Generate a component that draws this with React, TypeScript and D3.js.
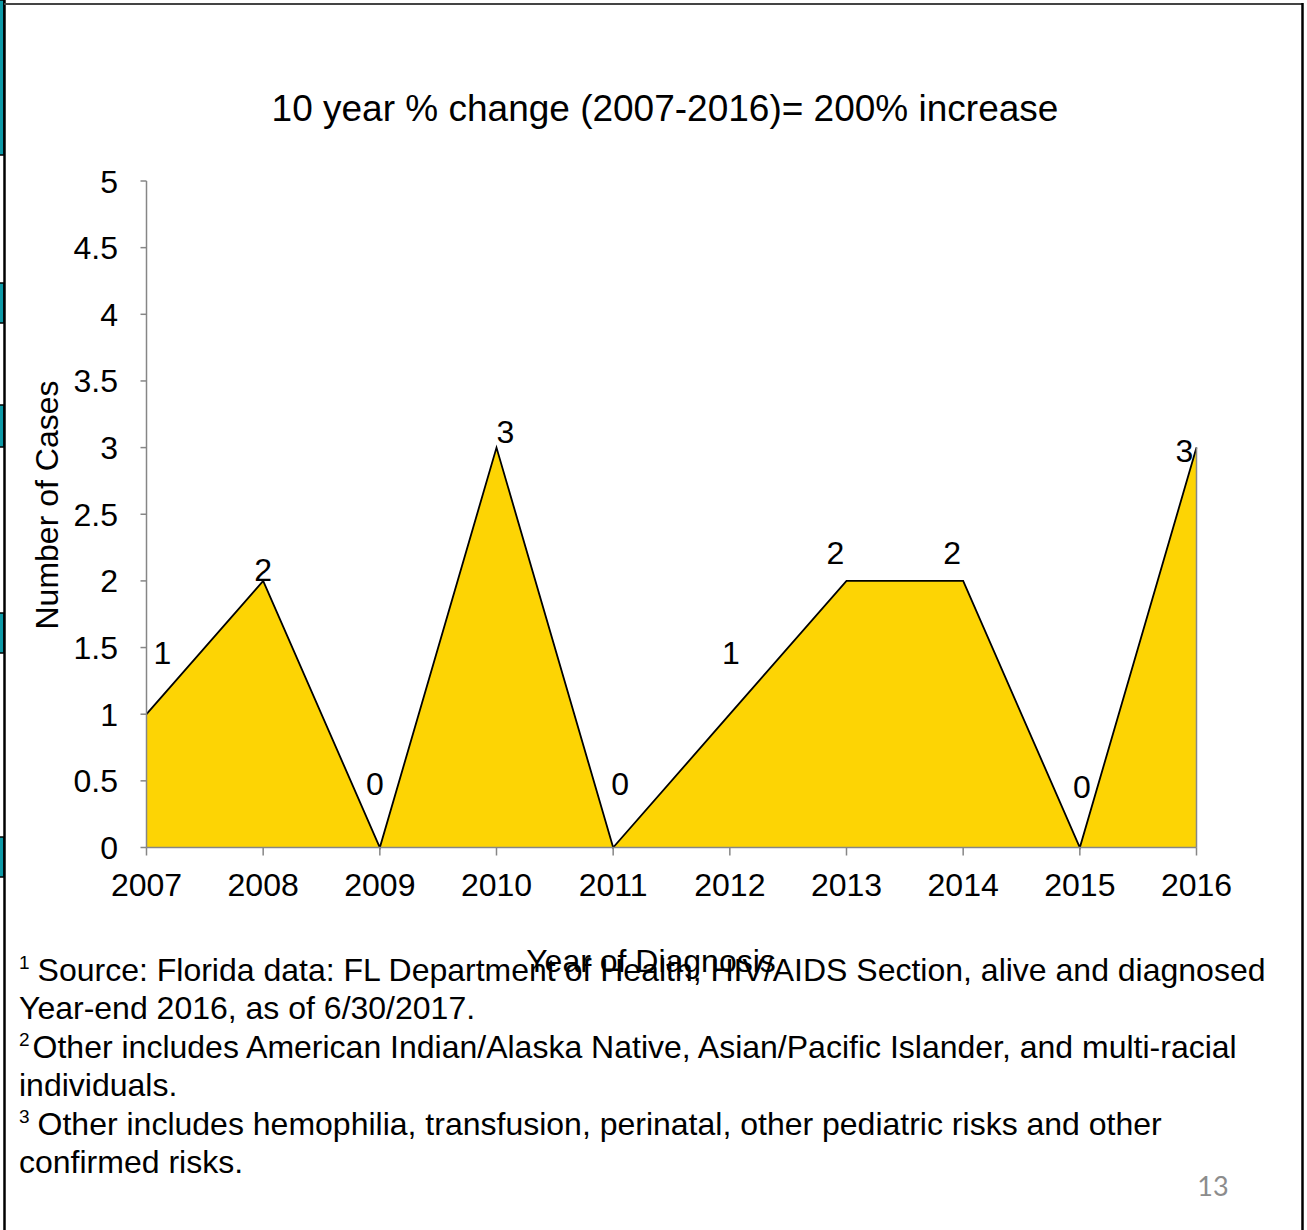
import React from "react";
import * as d3 from "d3";

const years = [2007, 2008, 2009, 2010, 2011, 2012, 2013, 2014, 2015, 2016];
const cases = [1, 2, 0, 3, 0, 1, 2, 2, 0, 3];
const yTicks = [0, 0.5, 1, 1.5, 2, 2.5, 3, 3.5, 4, 4.5, 5];
// label offsets (dx, dy) from the point to the label centre, mimicking the source placement
const labelDx = [16, 0, -5, 9, 7, 1, -11, -11, 2, -12];
const labelDy = [-62, -11, -64, -16, -64, -62, -28, -28, -61, 3];
const tealBands = [[0, 155], [283, 323], [405, 447], [613, 653], [837, 877]];

const title = "10 year % change (2007-2016)= 200% increase";
const yTitle = "Number of Cases";
const xTitle = "Year of Diagnosis";
const footnoteSups = ["1", "", "2", "", "3", ""];
const footnoteLines = [
  "Source: Florida data: FL Department of Health, HIV/AIDS Section, alive and diagnosed",
  "Year-end 2016, as of 6/30/2017.",
  "Other includes American Indian/Alaska Native, Asian/Pacific Islander, and multi-racial",
  "individuals.",
  "Other includes hemophilia, transfusion, perinatal, other pediatric risks and other",
  "confirmed risks.",
];
const footnoteGap = [8, 0, 3, 0, 8, 0];

const FONT = "'Liberation Sans', Arial, sans-serif";

export default function App() {
  const W = 1307, H = 1230;
  const x0 = 146.5, x1 = 1196.5, yTop = 181, yBot = 847.5;
  const x = d3.scalePoint<number>().domain(years).range([x0, x1]);
  const y = d3.scaleLinear().domain([0, 5]).range([yBot, yTop]);
  const pts = years.map((yr, i) => ({ yr, v: cases[i] }));
  const area = d3.area<{ yr: number; v: number }>()
    .x(d => x(d.yr)!)
    .y0(y(0))
    .y1(d => y(d.v));
  const line = d3.line<{ yr: number; v: number }>()
    .x(d => x(d.yr)!)
    .y(d => y(d.v));

  const axisColor = "#868686";
  const fs = 32;

  return (
    <svg width={W} height={H} style={{ position: "absolute", left: 0, top: 0, background: "#fff" }}
      fontFamily={FONT}>
      <rect x={0} y={0} width={W} height={H} fill="#fff" />
      {/* slide frame */}
      {tealBands.map(([a, b], i) => (
        <rect key={i} x={-1} y={a} width={5} height={b - a} fill="#0E9AA7" stroke="#000" strokeWidth={1.5} />
      ))}
      <line x1={4.5} y1={0} x2={4.5} y2={H} stroke="#000" strokeWidth={2.5} />
      <line x1={4} y1={4} x2={1303} y2={4} stroke="#444" strokeWidth={2} />
      <line x1={1302.5} y1={3} x2={1302.5} y2={H} stroke="#000" strokeWidth={2.5} />

      {/* title */}
      <text x={665} y={121} fontSize={37} textAnchor="middle" fill="#000">{title}</text>

      {/* area */}
      <path d={area(pts)!} fill="#FDD404" />
      <path d={line(pts)!} fill="none" stroke="#000" strokeWidth={1.8} strokeLinejoin="miter" />
      <line x1={x1} y1={y(cases[cases.length - 1])} x2={x1} y2={yBot} stroke={axisColor} strokeWidth={1.5} />

      {/* y axis */}
      <line x1={x0} y1={yTop} x2={x0} y2={yBot} stroke={axisColor} strokeWidth={1.5} />
      {yTicks.map(t => (
        <g key={t}>
          <line x1={x0 - 6} x2={x0} y1={y(t)} y2={y(t)} stroke={axisColor} strokeWidth={1.5} />
          <text x={118} y={y(t) + 11.5} fontSize={fs} textAnchor="end" fill="#000">{t}</text>
        </g>
      ))}
      {/* x axis */}
      <line x1={x0} y1={yBot} x2={x1} y2={yBot} stroke={axisColor} strokeWidth={1.5} />
      {years.map(yr => (
        <g key={yr}>
          <line x1={x(yr)} x2={x(yr)} y1={yBot} y2={yBot + 8} stroke={axisColor} strokeWidth={1.5} />
          <text x={x(yr)} y={896} fontSize={fs} textAnchor="middle" fill="#000">{yr}</text>
        </g>
      ))}

      {/* data labels */}
      {pts.map((d, i) => (
        <text key={d.yr} x={x(d.yr)! + labelDx[i]} y={y(d.v) + labelDy[i] + 11.5}
          fontSize={fs} textAnchor="middle" fill="#000">{d.v}</text>
      ))}

      {/* axis titles */}
      <text transform={`translate(58,505) rotate(-90)`} fontSize={fs} textAnchor="middle" fill="#000">{yTitle}</text>

      {/* footnotes */}
      {footnoteLines.map((txt, i) => (
        <text key={i} x={19} y={981 + i * 38.4} fontSize={fs} fill="#000">
          {footnoteSups[i] && <tspan fontSize={19} dy={-12}>{footnoteSups[i]}</tspan>}
          <tspan dx={footnoteGap[i]} dy={footnoteSups[i] ? 12 : 0}>{txt}</tspan>
        </text>
      ))}
      <text x={651} y={972} fontSize={fs} textAnchor="middle" fill="#000">{xTitle}</text>

      <text x={1213} y={1196} fontSize={27} textAnchor="middle" fill="#8C8C8C" fontFamily="Lato, 'Open Sans', sans-serif">13</text>
    </svg>
  );
}
